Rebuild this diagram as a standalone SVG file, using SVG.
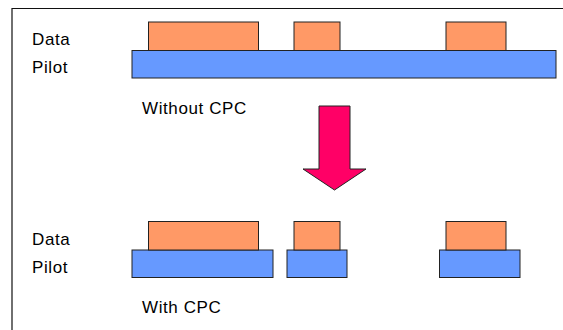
<svg xmlns="http://www.w3.org/2000/svg" width="563" height="330" viewBox="0 0 563 330">
<style>
.t{font-family:"Liberation Sans",Arial,sans-serif;font-size:17px;letter-spacing:0.6px;fill:#000}
.d{fill:#FF9966;stroke:#222;stroke-width:1}
.p{fill:#6699FF;stroke:#222;stroke-width:1}
</style>
<rect width="563" height="330" fill="#fff"/>
<path d="M12,330 V8.5 H563" fill="none" stroke="#111" stroke-width="1.2"/>
<g id="labels-top">
<text class="t" x="32" y="45">Data</text>
<text class="t" x="32" y="73">Pilot</text>
<text class="t" x="142" y="114">Without CPC</text>
</g>
<g id="top-row">
<rect class="p" x="132" y="50.5" width="424" height="27.5"/>
<rect class="d" x="148.5" y="22" width="110" height="28.5"/>
<rect class="d" x="294" y="22" width="46" height="28.5"/>
<rect class="d" x="446" y="22" width="60" height="28.5"/>
</g>
<g id="connectors">
<polygon points="319,106 350,106 350,169 366,169 334.5,190 303,169 319,169" fill="#FF0066" stroke="#222" stroke-width="1"/>
</g>
<g id="labels-bottom">
<text class="t" x="32" y="245">Data</text>
<text class="t" x="32" y="273">Pilot</text>
<text class="t" x="142" y="313">With CPC</text>
</g>
<g id="bottom-row">
<rect class="p" x="132" y="250" width="141" height="27.5"/>
<rect class="d" x="148.5" y="221.5" width="110" height="28.5"/>
<rect class="p" x="287" y="250" width="60" height="27.5"/>
<rect class="d" x="294" y="221.5" width="46" height="28.5"/>
<rect class="p" x="439.5" y="250" width="80.5" height="27.5"/>
<rect class="d" x="446" y="221.5" width="60" height="28.5"/>
</g>
</svg>
